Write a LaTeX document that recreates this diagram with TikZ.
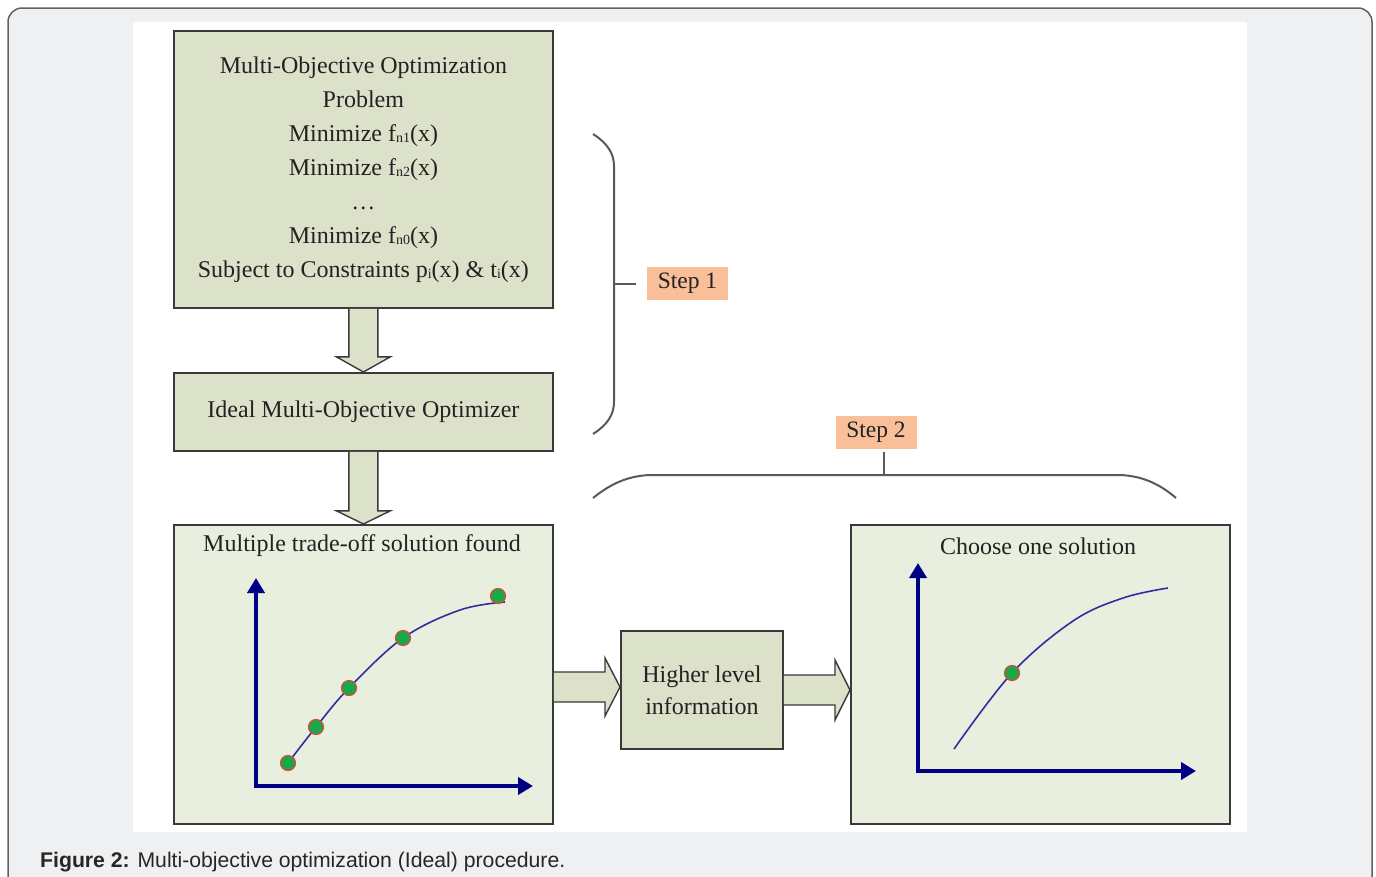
\documentclass[tikz,border=0pt]{standalone}
\usepackage{fontspec}
\setmainfont{Liberation Serif}
\newfontfamily\capfont{Liberation Sans}
\usetikzlibrary{calc,arrows.meta}
\definecolor{pagebg}{HTML}{EFF0F2}
\definecolor{boxdark}{HTML}{DCE1CA}
\definecolor{boxlight}{HTML}{E9EFDE}
\definecolor{stepfill}{HTML}{F9BF98}
\definecolor{axisblue}{HTML}{000085}
\definecolor{curveblue}{HTML}{2E2E9E}
\definecolor{dotgreen}{HTML}{17A84A}
\definecolor{dotred}{HTML}{E0483C}
\definecolor{edgegray}{HTML}{3A3A3A}
\definecolor{textgray}{HTML}{222222}
\newcommand{\subx}[1]{{\fontsize{14}{14}\selectfont\raisebox{-1pt}{#1}}}
\tikzset{
  boxbase/.style={draw=edgegray, line width=1.8pt, inner sep=0pt, align=center,
    text=textgray, font=\fontsize{24}{34}\selectfont},
  darkbox/.style={boxbase, fill=boxdark},
  lightbox/.style={boxbase, fill=boxlight},
  steplabel/.style={fill=stepfill, text=textgray, inner sep=0pt, minimum width=81pt,
    minimum height=33pt, font=\fontsize{23.5}{26}\selectfont},
  bigarrow/.style={fill=boxdark, draw=edgegray, line width=1.4pt, line join=miter},
  bracestyle/.style={draw=gray!70!black, line width=2pt},
  axisline/.style={draw=axisblue, line width=4pt, -{Triangle[length=15pt,width=17pt]}},
  curveline/.style={draw=curveblue, line width=1.6pt},
  soldot/.style={circle, fill=dotgreen, draw=dotred, line width=1.2pt, minimum size=15pt, inner sep=0pt},
  titletext/.style={text=textgray, font=\fontsize{24}{26}\selectfont, inner sep=0pt}
}
\begin{document}
\begin{tikzpicture}[x=1pt,y=-1pt]
\useasboundingbox (0,0) rectangle (1376,876);
\begin{scope}
\clip (0,0) rectangle (1376,876);
\draw[fill=pagebg, draw=edgegray!80, line width=1.5pt, rounded corners=14pt] (8,8) rectangle (1372,910);
\end{scope}
\fill[white] (133,22) rectangle (1247,832);

% boxes
\node[darkbox, anchor=north west, minimum width=379pt, minimum height=277pt] (prob) at (173,30)
  {Multi-Objective Optimization\\Problem\\Minimize f\subx{n1}(x)\\Minimize f\subx{n2}(x)\\\ldots\\Minimize f\subx{n0}(x)\\Subject to Constraints p\subx{i}(x) \& t\subx{i}(x)};
\node[darkbox, anchor=north west, minimum width=379pt, minimum height=78pt] (opt) at (173,372)
  {Ideal Multi-Objective Optimizer};
\node[lightbox, anchor=north west, minimum width=379pt, minimum height=299pt] (multi) at (173,524) {};
\node[darkbox, anchor=north west, minimum width=162pt, minimum height=118pt, font=\fontsize{24}{32}\selectfont] (info) at (620,630)
  {Higher level\\information};
\node[lightbox, anchor=north west, minimum width=379pt, minimum height=299pt] (choose) at (850,524) {};

\node[titletext] (multit) at (362,546) {Multiple trade-off solution found};
\node[titletext] (chooset) at (1038,546) {Choose one solution};

% block arrows (down)
\filldraw[bigarrow] ($(prob.south)+(-14.5,0)$) -- ($(prob.south)+(-14.5,48)$) -- ($(prob.south)+(-27,48)$)
  -- (opt.north) -- ($(prob.south)+(27,48)$) -- ($(prob.south)+(14.5,48)$) -- ($(prob.south)+(14.5,0)$);
\filldraw[bigarrow] ($(opt.south)+(-14.5,0)$) -- ($(opt.south)+(-14.5,59)$) -- ($(opt.south)+(-27,59)$)
  -- (multi.north) -- ($(opt.south)+(27,59)$) -- ($(opt.south)+(14.5,59)$) -- ($(opt.south)+(14.5,0)$);
% block arrows (right)
\coordinate (a1) at (multi.east |- 0,687);
\coordinate (a1t) at (info.west |- 0,687);
\filldraw[bigarrow] ($(a1)+(0,-15)$) -- ($(a1t)+(-15,-15)$) -- ($(a1t)+(-15,-29)$) -- (a1t)
  -- ($(a1t)+(-15,29)$) -- ($(a1t)+(-15,15)$) -- ($(a1)+(0,15)$);
\coordinate (a2) at (info.east |- 0,690);
\coordinate (a2t) at (choose.west |- 0,690);
\filldraw[bigarrow] ($(a2)+(0,-15)$) -- ($(a2t)+(-15,-15)$) -- ($(a2t)+(-15,-30)$) -- (a2t)
  -- ($(a2t)+(-15,30)$) -- ($(a2t)+(-15,15)$) -- ($(a2)+(0,15)$);

% step 1 brace
\node[steplabel] (step1) at (687.5,283.5) {Step 1};
\draw[bracestyle] (593,134) .. controls (607,143) and (614,153) .. (614,166) -- (614,402)
  .. controls (614,415) and (607,425) .. (593,434);
\coordinate (b1mid) at (614,283.5);
\draw[bracestyle] (b1mid) -- ($(step1.west)+(-11,0)$);

% step 2 brace
\node[steplabel] (step2) at (876,432.5) {Step 2};
\draw[bracestyle] (593,498) .. controls (608,486) and (625,476) .. (650,475) -- (1120,475)
  .. controls (1145,476) and (1162,486) .. (1176,498);
\coordinate (b2mid) at (884,475);
\draw[bracestyle] (b2mid) -- (884,452);

% plot 1
\coordinate (o1) at (256,786);
\draw[axisline] (o1) -- (256,578);
\draw[axisline] ($(o1)+(-2,0)$) -- (533,786);
\draw[curveline] plot[smooth, tension=0.6] coordinates {(288,763) (316,727) (349,688) (403,638) (460,610) (505,602)};
\node[soldot] (d1) at (288,763) {};
\node[soldot] (d2) at (316,727) {};
\node[soldot] (d3) at (349,688) {};
\node[soldot] (d4) at (403,638) {};
\node[soldot] (d5) at (498,596) {};

% plot 2
\coordinate (o2) at (918,771);
\draw[axisline] (o2) -- (918,563);
\draw[axisline] ($(o2)+(-2,0)$) -- (1196,771);
\draw[curveline] plot[smooth, tension=0.6] coordinates {(954,749) (1012,673) (1073,621) (1123,598) (1168,588)};
\node[soldot] (d6) at (1012,673) {};

% caption
\node[anchor=base west, inner sep=0pt, font=\capfont\fontsize{21.2}{24}\selectfont, text=black!85] (cap) at (40,867)
  {\textbf{Figure 2:} Multi-objective optimization (Ideal) procedure.};
\end{tikzpicture}
\end{document}
